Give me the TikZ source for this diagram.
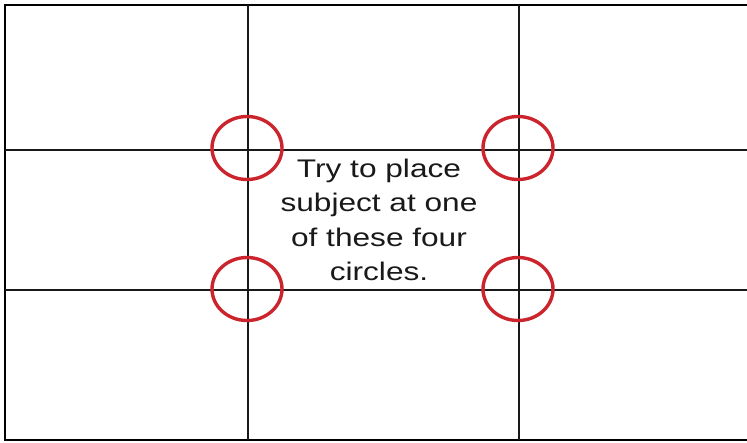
\documentclass[tikz,border=0pt]{standalone}
\usepackage{fontspec}
\setmainfont{Liberation Sans}
\usetikzlibrary{shapes.geometric}
\definecolor{spotred}{RGB}{204,36,44}
\tikzset{
  gridline/.style={line width=2pt,black!90},
  spot/.style={ellipse,draw=spotred,line width=3.4pt,minimum width=70pt,minimum height=63pt,inner sep=0pt}
}

\begin{document}
\begin{tikzpicture}[x=1pt,y=-1pt]
        \useasboundingbox (0,0) rectangle (747,442);
        % frame, open on the right
        \draw[line width=2.6pt,black] (748,5) -- (5,5) -- (5,440) -- (748,440);
        % thirds
        \draw[gridline] (248,5) -- (248,440);
        \draw[gridline] (519,5) -- (519,440);
        \draw[gridline] (5,150) -- (748,150);
        \draw[gridline] (5,290) -- (748,290);
        \node[spot] (tl) at (247,148) {};
        \node[spot] (tr) at (518,148) {};
        \node[spot] (bl) at (247,289) {};
        \node[spot] (br) at (518,289) {};
        \node[align=center,font=\fontsize{25.5}{34.5}\selectfont,text=black!90,
              xscale=1.24,transform shape] (txt) at (379,220)
          {Try to place\\subject at one\\of these four\\circles.};
      \end{tikzpicture}
\end{document}
